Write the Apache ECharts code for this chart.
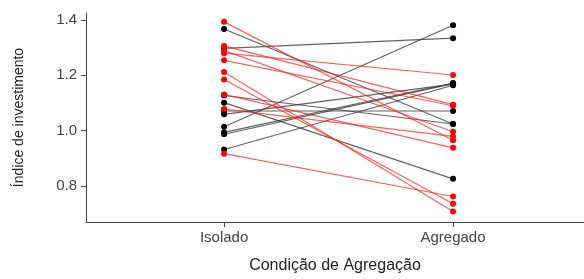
<!DOCTYPE html>
<html>
<head>
<meta charset="utf-8">
<script src="https://cdn.jsdelivr.net/npm/echarts@6/dist/echarts.min.js"></script>
<style>
  html, body { margin: 0; padding: 0; background: #fff; }
  #chart { width: 584px; height: 279px; }
</style>
</head>
<body>
<div id="chart"></div>
<script>
// categorias no eixo x
var conditions = ['Isolado', 'Agregado'];
var yTicks = [0.8, 1.0, 1.2, 1.4];

// pares (Isolado -> Agregado), grupo vermelho
var redIsolado  = [1.393, 1.306, 1.289, 1.280, 1.254, 1.212, 1.185, 1.131, 1.078, 0.917];
var redAgregado = [0.965, 1.094, 0.996, 1.201, 1.090, 0.708, 0.736, 0.938, 0.979, 0.762];

// pares (Isolado -> Agregado), grupo preto
var blackIsolado  = [1.367, 1.297, 1.127, 1.101, 1.071, 1.059, 1.014, 0.994, 0.987, 0.932];
var blackAgregado = [1.024, 1.334, 1.024, 0.826, 1.071, 1.168, 1.381, 1.172, 1.170, 1.164];

function pairSeries(a, b, lineColor, dotColor) {
  var out = [];
  for (var i = 0; i < a.length; i++) {
    out.push({
      type: 'line',
      data: [[1, a[i]], [2, b[i]]],
      symbol: 'circle',
      symbolSize: 6,
      silent: true,
      animation: false,
      lineStyle: { color: lineColor, width: 1.2 },
      itemStyle: { color: dotColor }
    });
  }
  return out;
}

var series = []
  .concat(pairSeries(blackIsolado, blackAgregado, 'rgba(60,60,60,0.8)', '#000'))
  .concat(pairSeries(redIsolado, redAgregado, 'rgba(255,30,30,0.7)', '#ff0000'));

var axisCol = '#444';

var option = {
  backgroundColor: '#fff',
  animation: false,
  grid: { left: 86, right: 0, top: 13, bottom: 51, containLabel: false },
  xAxis: {
    type: 'value',
    min: 0.397,
    max: 2.572,
    name: 'Condição de Agregação',
    nameLocation: 'middle',
    nameGap: 36,
    nameTextStyle: { color: '#222', fontSize: 16, fontFamily: 'Liberation Sans' },
    splitLine: { show: false },
    axisLine: { show: true, lineStyle: { color: axisCol, width: 1 } },
    axisTick: { show: true, length: 5, customValues: [1, 2], lineStyle: { color: axisCol } },
    axisLabel: {
      customValues: [1, 2],
      margin: 8,
      color: '#444',
      fontSize: 15,
      fontFamily: 'Liberation Sans',
      formatter: function (v) { return conditions[Math.round(v) - 1] || ''; }
    }
  },
  yAxis: {
    type: 'value',
    min: 0.67,
    max: 1.425,
    name: 'Índice de investimento',
    nameLocation: 'middle',
    nameGap: 60,
    nameTextStyle: { color: '#222', fontSize: 14, fontFamily: 'Liberation Sans' },
    splitLine: { show: false },
    axisLine: { show: true, lineStyle: { color: axisCol, width: 1 } },
    axisTick: { show: true, length: 5, customValues: yTicks, lineStyle: { color: axisCol } },
    axisLabel: {
      customValues: yTicks,
      margin: 9,
      color: '#444',
      fontSize: 15,
      fontFamily: 'Liberation Sans',
      formatter: function (v) { return v.toFixed(1); }
    }
  },
  series: series
};

var myChart = echarts.init(document.getElementById('chart'));
myChart.setOption(option);
</script>
</body>
</html>
